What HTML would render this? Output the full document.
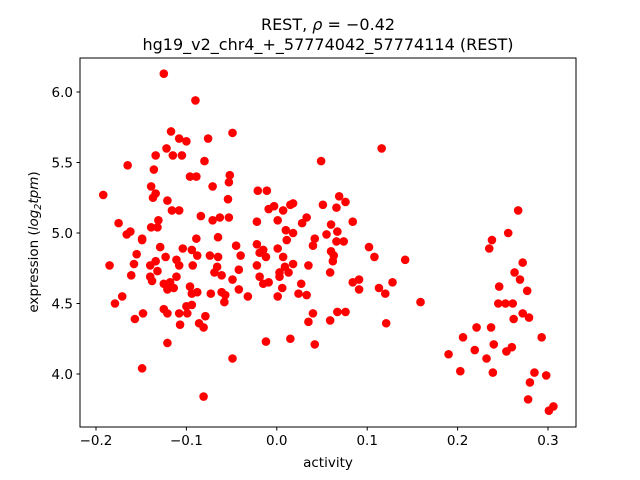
<!DOCTYPE html>
<html><head><meta charset="utf-8"><style>
html,body{margin:0;padding:0;background:#fff}
svg{display:block;font-family:"DejaVu Sans","Liberation Sans",sans-serif}
</style></head><body>
<svg id="chart" width="640" height="480" viewBox="0 0 640 480" xmlns="http://www.w3.org/2000/svg">
<rect x="0" y="0" width="640" height="480" fill="#fff"/>
<text x="328" y="30" font-size="16" text-anchor="middle">REST, <tspan font-style="italic">ρ</tspan> = −0.42</text>
<text x="328" y="50" font-size="16" text-anchor="middle">hg19_v2_chr4_+_57774042_57774114 (REST)</text>
<g id="marks"></g>
<rect x="80" y="58" width="496" height="369" fill="none" stroke="#000" stroke-width="1"/>
<g id="xticks"></g>
<g id="yticks"></g>
<text x="328" y="467" font-size="13.5" text-anchor="middle">activity</text>
<text transform="translate(38,242) rotate(-90)" font-size="13.5" text-anchor="middle">expression (<tspan font-style="italic">log</tspan><tspan font-size="9.5" dy="3" font-style="italic">2</tspan><tspan dy="-3" font-style="italic">tpm</tspan>)</text>
</svg>
<script>
const xValues = [-0.149,-0.129,-0.155,-0.104,-0.094,-0.088,-0.074,-0.065,-0.045,-0.040,-0.022,-0.185,-0.158,-0.140,-0.134,-0.123,-0.111,-0.108,-0.093,-0.132,-0.066,-0.069,-0.061,-0.042,-0.161,-0.140,-0.138,-0.111,-0.049,-0.125,-0.118,-0.121,-0.114,-0.096,-0.094,-0.088,-0.073,-0.061,-0.058,-0.057,-0.042,-0.032,-0.171,-0.179,-0.148,-0.157,-0.125,-0.121,-0.108,-0.100,-0.094,-0.099,-0.079,-0.086,-0.081,-0.107,-0.121,-0.049,-0.149,-0.081,-0.022,-0.019,
-0.125,-0.090,-0.117,-0.108,-0.100,-0.076,-0.049,-0.122,-0.115,-0.105,-0.134,-0.080,-0.165,-0.136,-0.096,-0.089,-0.052,-0.053,-0.071,-0.139,-0.134,-0.137,-0.192,-0.021,-0.121,-0.054,-0.116,-0.108,-0.084,-0.071,-0.063,-0.053,-0.175,-0.131,-0.139,-0.132,-0.162,-0.166,-0.149,-0.089,-0.065,-0.022,
0.116,0.049,-0.011,0.069,0.076,0.051,0.066,0.018,0.015,-0.003,-0.009,0.007,0.001,0.033,0.028,0.060,0.084,0.067,0.010,0.018,0.055,0.042,0.011,0.066,0.074,0.040,0.102,0.001,-0.015,-0.019,-0.012,0.060,0.063,0.108,0.007,0.062,0.142,0.018,0.009,0.035,0.003,0.013,0.059,0.003,-0.009,-0.015,0.084,0.091,0.091,0.128,0.113,0.120,0.027,0.006,0.024,0.033,0.001,0.159,0.040,0.035,0.067,0.076,0.059,0.121,-0.012,0.015,0.042,
0.267,0.256,0.238,0.235,0.272,0.263,0.269,0.246,0.277,0.245,0.253,0.261,0.262,0.272,0.279,0.221,0.237,0.206,0.293,0.240,0.260,0.254,0.219,0.232,0.190,0.203,0.239,0.285,0.298,0.280,0.278,0.306,0.301];
const yValues = [4.95,4.90,4.85,4.89,4.88,4.84,4.84,4.83,4.91,4.84,4.92,4.77,4.78,4.77,4.80,4.83,4.81,4.77,4.77,4.73,4.76,4.72,4.70,4.74,4.70,4.69,4.66,4.69,4.67,4.64,4.65,4.60,4.61,4.62,4.57,4.58,4.57,4.58,4.51,4.56,4.60,4.55,4.55,4.50,4.43,4.39,4.46,4.43,4.43,4.48,4.49,4.43,4.41,4.36,4.33,4.35,4.22,4.11,4.04,3.84,4.77,4.69,
6.13,5.94,5.72,5.67,5.65,5.67,5.71,5.60,5.55,5.55,5.55,5.51,5.48,5.45,5.40,5.40,5.41,5.36,5.33,5.33,5.28,5.25,5.27,5.30,5.23,5.24,5.16,5.16,5.12,5.09,5.11,5.11,5.07,5.09,5.04,5.04,5.01,4.99,4.96,4.96,4.97,5.08,
5.60,5.51,5.30,5.26,5.22,5.20,5.18,5.21,5.20,5.19,5.17,5.16,5.09,5.11,5.07,5.06,5.08,5.01,5.02,5.00,4.99,4.96,4.95,4.94,4.94,4.91,4.90,4.89,4.88,4.86,4.83,4.87,4.84,4.83,4.83,4.80,4.81,4.78,4.76,4.77,4.72,4.72,4.72,4.69,4.65,4.64,4.65,4.67,4.60,4.65,4.61,4.57,4.64,4.61,4.57,4.56,4.55,4.51,4.43,4.37,4.44,4.44,4.38,4.36,4.23,4.25,4.21,
5.16,5.00,4.95,4.89,4.79,4.72,4.67,4.62,4.59,4.50,4.50,4.50,4.39,4.43,4.40,4.33,4.33,4.26,4.26,4.21,4.19,4.16,4.17,4.11,4.14,4.02,4.01,4.01,3.99,3.94,3.82,3.77,3.74];
const xTickValues = [-0.2,-0.1,0.0,0.1,0.2,0.3];
const xTickLabels = ["−0.2","−0.1","0.0","0.1","0.2","0.3"];
const yTickValues = [4.0,4.5,5.0,5.5,6.0];
const yTickLabels = ["4.0","4.5","5.0","5.5","6.0"];

const NS = "http://www.w3.org/2000/svg";
function sx(v){ return 276.8 + v*904; }
function sy(v){ return 92 - (v-6)*141; }

const marks = document.getElementById('marks');
for (let i=0;i<xValues.length;i++){
  const c = document.createElementNS(NS,'circle');
  c.setAttribute('cx', sx(xValues[i]));
  c.setAttribute('cy', sy(yValues[i]));
  c.setAttribute('r', 4.3);
  c.setAttribute('fill', '#ff0000');
  
  
  marks.appendChild(c);
}
const xg = document.getElementById('xticks');
xTickValues.forEach((v,i)=>{
  const x = sx(v);
  const l = document.createElementNS(NS,'line');
  l.setAttribute('x1',x); l.setAttribute('x2',x); l.setAttribute('y1',427); l.setAttribute('y2',430.5);
  l.setAttribute('stroke','#000');
  
  
  xg.appendChild(l);
  const t = document.createElementNS(NS,'text');
  t.setAttribute('x',x); t.setAttribute('y',445); t.setAttribute('font-size','13.5'); t.setAttribute('text-anchor','middle');
  t.textContent = xTickLabels[i];
  
  
  xg.appendChild(t);
});
const yg = document.getElementById('yticks');
yTickValues.forEach((v,i)=>{
  const y = sy(v);
  const l = document.createElementNS(NS,'line');
  l.setAttribute('x1',76.5); l.setAttribute('x2',80); l.setAttribute('y1',y); l.setAttribute('y2',y);
  l.setAttribute('stroke','#000');
  
  
  yg.appendChild(l);
  const t = document.createElementNS(NS,'text');
  t.setAttribute('x',73); t.setAttribute('y',y+5); t.setAttribute('font-size','13.5'); t.setAttribute('text-anchor','end');
  t.textContent = yTickLabels[i];
  
  
  yg.appendChild(t);
});
</script>
</body></html>
